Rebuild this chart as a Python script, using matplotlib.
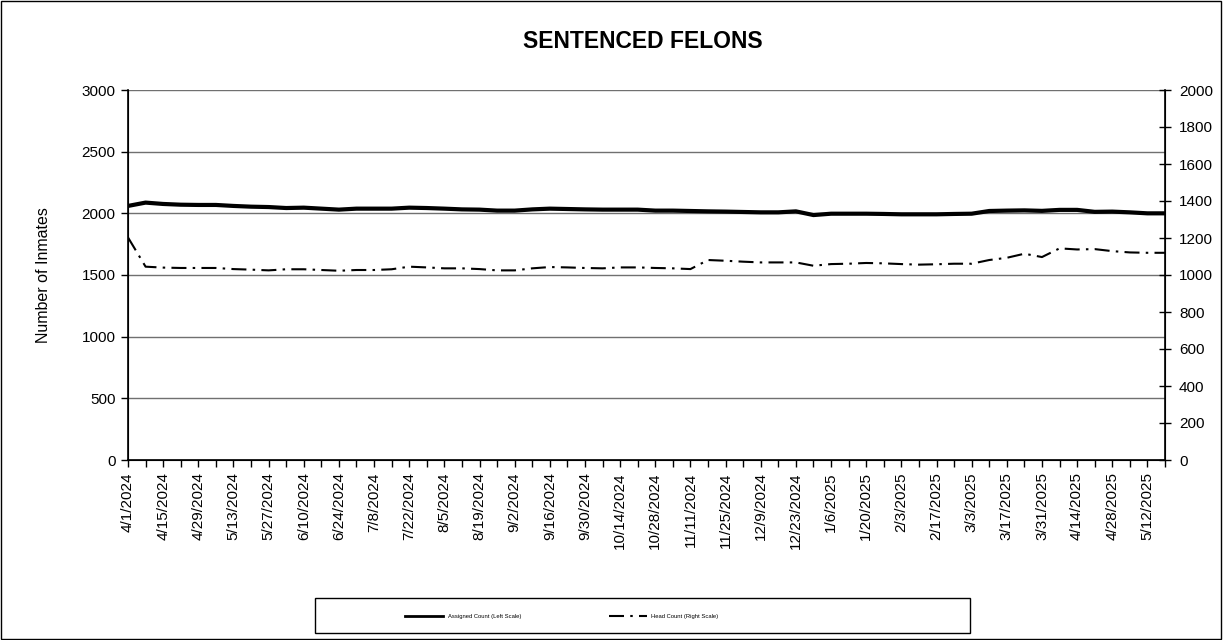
import matplotlib
matplotlib.use("Agg")
import matplotlib.pyplot as plt
from matplotlib.patches import Rectangle
from matplotlib.lines import Line2D
import pandas as pd

plt.rcParams["font.family"] = ["Liberation Sans", "DejaVu Sans"]

# ── Data (weekly) ─────────────────────────────────────────────────────────────

dates = pd.date_range("2024-04-01", "2025-05-19", freq="7D")
date_labels = [f"{d.month}/{d.day}/{d.year}" for d in dates]

assigned_count = [
    2060, 2087, 2076, 2070, 2068, 2068, 2060, 2054, 2051, 2043,
    2046, 2038, 2030, 2038, 2038, 2038, 2046, 2043, 2038, 2032,
    2030, 2022, 2022, 2032, 2038, 2035, 2032, 2030, 2030, 2030,
    2022, 2022, 2019, 2016, 2014, 2011, 2008, 2008, 2016, 1986,
    1997, 1997, 1997, 1995, 1992, 1992, 1992, 1995, 1997, 2019,
    2022, 2024, 2020, 2028, 2028, 2012, 2014, 2008, 2000, 2000,
]

head_count = [
    1203, 1045, 1040, 1038, 1038, 1038, 1032, 1029, 1025, 1031,
    1031, 1027, 1023, 1027, 1027, 1031, 1045, 1041, 1036, 1036,
    1032, 1025, 1025, 1036, 1043, 1041, 1038, 1036, 1041, 1041,
    1038, 1036, 1032, 1081, 1077, 1072, 1068, 1068, 1068, 1050,
    1059, 1061, 1065, 1063, 1059, 1056, 1058, 1061, 1061, 1081,
    1093, 1115, 1097, 1144, 1138, 1140, 1129, 1122, 1120, 1120,
]

left_ticks = [0, 500, 1000, 1500, 2000, 2500, 3000]
right_ticks = [0, 200, 400, 600, 800, 1000, 1200, 1400, 1600, 1800, 2000]

# ── Figure ────────────────────────────────────────────────────────────────────

fig = plt.figure(figsize=(12.23, 6.40), dpi=100)
ax = fig.add_axes([128 / 1223, 1 - 460 / 640, (1165 - 128) / 1223, (460 - 90) / 640])
ax2 = ax.twinx()

x = list(range(len(dates)))
dash_pattern = (0, (7.2, 3, 1.2, 3))

ax.plot(x, assigned_count, color="black", linewidth=3.0, solid_joinstyle="round", zorder=3)
ax2.plot(x, head_count, color="black", linewidth=1.5, linestyle=dash_pattern, zorder=3)

ax.set_xlim(0, len(dates) - 1)
ax.set_ylim(0, 3000)
ax2.set_ylim(0, 2000)

ax.set_yticks(left_ticks)
ax2.set_yticks(right_ticks)
ax.yaxis.grid(True, color="#707070", linewidth=1.0)
ax.set_axisbelow(True)

ax.set_xticks(x)
ax.set_xticklabels([lbl if i % 2 == 0 else "" for i, lbl in enumerate(date_labels)],
                   rotation=90, fontsize=11)
ax.tick_params(axis="x", direction="out", length=5, width=1, pad=4)
ax.tick_params(axis="y", direction="out", length=5, width=1, labelsize=11, pad=4)
ax2.tick_params(axis="y", direction="inout", length=8, width=1, labelsize=11, pad=6)

ax.spines["top"].set_visible(False)
ax2.spines["top"].set_visible(False)
for sp in ["left", "bottom"]:
    ax.spines[sp].set_linewidth(1.2)
ax2.spines["right"].set_linewidth(1.2)

ax.set_ylabel("Number of Inmates", fontsize=11.5)
ax.yaxis.set_label_coords((51 - 128) / 1037, 0.5)

fig.text(643 / 1223, 1 - 41 / 640, "SENTENCED FELONS", ha="center", va="center",
         fontsize=16.5, fontweight="bold")

# legend box drawn by hand, entries inside it
fig.patches.append(Rectangle((315 / 1223, 1 - 633 / 640), (970 - 315) / 1223, 35 / 640,
                             transform=fig.transFigure, fill=False,
                             edgecolor="black", linewidth=1.0))
handles = [Line2D([], [], color="black", linewidth=2.0),
           Line2D([], [], color="black", linewidth=1.5, linestyle=dash_pattern)]
fig.legend(handles, ["Assigned Count (Left Scale)", "Head Count (Right Scale)"],
           loc="center", bbox_to_anchor=(562 / 1223, 1 - 616 / 640), ncol=2,
           frameon=False, fontsize=4.2, handlelength=6.5, columnspacing=15)

# outer border
fig.patches.append(Rectangle((0.0005, 0.001), 0.998, 0.997, transform=fig.transFigure,
                             fill=False, edgecolor="black", linewidth=1.0))

fig.savefig("out.png", dpi=100)
